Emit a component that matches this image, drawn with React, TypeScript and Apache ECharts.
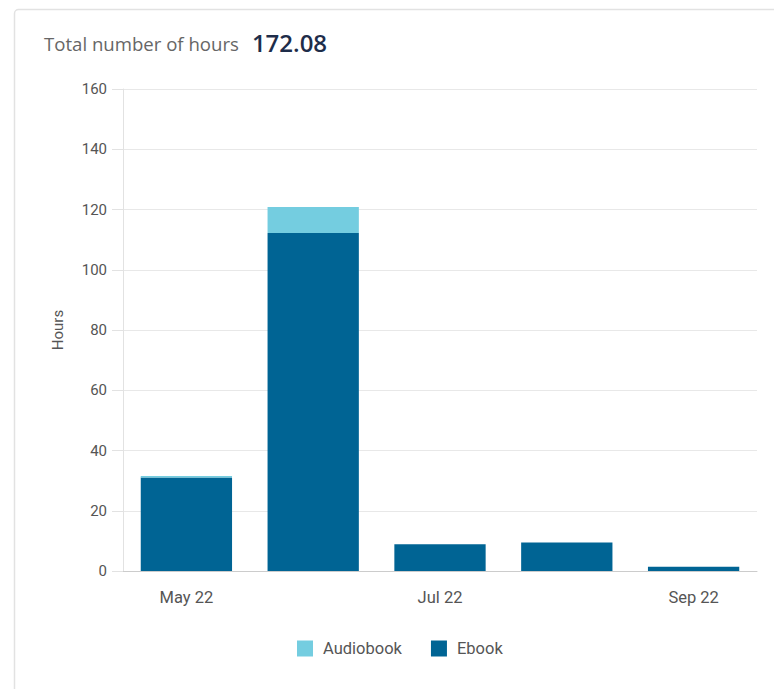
import React, { useEffect, useRef } from "react";
import * as echarts from "echarts";

const categories = ["May 22", "Jun 22", "Jul 22", "Aug 22", "Sep 22"];
const audiobookHours = [0.55, 8.6, 0, 0, 0];
const ebookHours = [31.0, 112.2, 8.85, 9.45, 1.43];
const totalHours = "172.08";
const yMin = 0;
const yMax = 160;
const yStep = 20;

export default function App() {
  const ref = useRef<HTMLDivElement>(null);
  useEffect(() => {
    if (!ref.current) return;
    const chart = echarts.init(ref.current, null, { renderer: "svg" });
    chart.setOption({
      animation: false,
      backgroundColor: "#fff",
      graphic: [
        {
          type: "rect",
          shape: { x: 14.5, y: 9.5, width: 800, height: 720, r: 4 },
          style: { fill: "none", stroke: "#e2e2e2", lineWidth: 1.5 },
          silent: true,
        },
      ],
      title: {
        left: 39,
        top: 25,
        text: "{a|Total number of hours}{b|" + totalHours + "}",
        textStyle: {
          fontWeight: "normal",
          rich: {
            a: { fontFamily: "Open Sans", fontSize: 18.6, fontWeight: "normal", color: "#666", padding: [2, 13, 0, 0] },
            b: { fontFamily: "Open Sans", fontSize: 24, fontWeight: 600, color: "#1e2d4a" },
          },
        },
      },
      legend: {
        left: 292,
        top: 635,
        itemWidth: 16,
        itemHeight: 16,
        itemGap: 29,
        icon: "rect",
        textStyle: { fontFamily: "Roboto", fontSize: 16.5, color: "#555", padding: [0, 0, 0, 5] },
        data: ["Audiobook", "Ebook"],
      },
      grid: { left: 123, right: 17, top: 89, bottom: 118, containLabel: false },
      xAxis: {
        type: "category",
        data: categories,
        axisLine: { lineStyle: { color: "#ccc" } },
        axisTick: { show: false },
        axisLabel: { interval: 1, fontFamily: "Roboto", fontSize: 16.5, color: "#555", margin: 18 },
      },
      yAxis: {
        type: "value",
        min: yMin,
        max: yMax,
        interval: yStep,
        name: "Hours",
        nameLocation: "middle",
        nameGap: 58,
        nameTextStyle: { fontFamily: "Roboto", fontSize: 15, color: "#555" },
        axisLine: { show: true, lineStyle: { color: "#e2e2e2" } },
        axisTick: { show: true, length: 11, lineStyle: { color: "#e2e2e2" } },
        axisLabel: { fontFamily: "Roboto", fontSize: 15, color: "#555", margin: 16 },
        splitLine: { lineStyle: { color: "#e8e8e8" } },
      },
      series: [
        {
          name: "Ebook",
          type: "bar",
          stack: "total",
          data: ebookHours,
          barCategoryGap: "28%",
          itemStyle: { color: "#006494" },
        },
        {
          name: "Audiobook",
          type: "bar",
          stack: "total",
          data: audiobookHours,
          itemStyle: { color: "#74cde0" },
        },
      ],
    });
    return () => chart.dispose();
  }, []);
  return (
    <div
      ref={ref}
      style={{ position: "absolute", left: 0, top: 0, width: 774, height: 689 }}
    />
  );
}
